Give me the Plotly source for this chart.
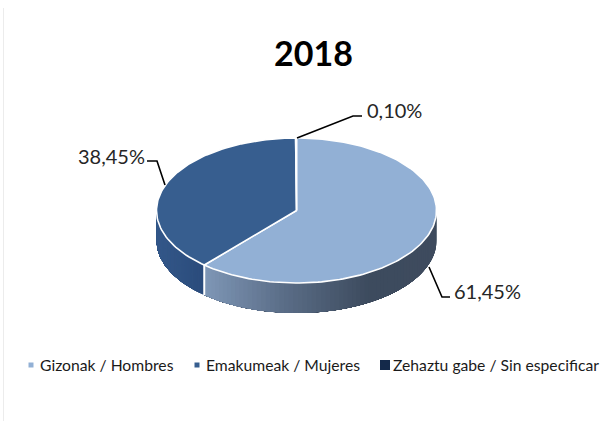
import numpy as np
import plotly.graph_objects as go

TITLE = "2018"
CATEGORIES = ["Gizonak / Hombres", "Emakumeak / Mujeres", "Zehaztu gabe / Sin especificar"]
VALUES = [61.45, 38.45, 0.10]
COLORS = ["#92B0D5", "#375E8F", "#14294A"]

W, H = 603, 421
CX, CY, RX, RY, DEPTH = 296.5, 210.5, 140, 72.5, 30
FONT = "Lato"
TEXT = "#262626"


def point(angle):
    return CX + RX * np.sin(angle), CY - RY * np.cos(angle)


def hex2rgb(h):
    return np.array([int(h[i:i + 2], 16) for i in (1, 3, 5)], float)


def mix(stops, t):
    xs = [s[0] for s in stops]
    rgb = [np.interp(t, xs, [hex2rgb(s[1])[k] for s in stops]) for k in range(3)]
    return "rgb(%d,%d,%d)" % tuple(rgb)


fig = go.Figure()
fracs = np.array(VALUES) / sum(VALUES)
edges = np.concatenate([[0], np.cumsum(fracs)]) * 2 * np.pi

SIDE_STOPS = [
    [(0.0, "#8098B8"), (0.35, "#5B6E88"), (0.72, "#3D4B5E"), (1.0, "#3F4C5E")],
    [(0.0, "#35598A"), (1.0, "#2B4C7C")],
]

# side walls of the front half: each strip runs to the end of the wall, the next paints over it
for i in range(2):
    a0, a1 = max(edges[i], np.pi / 2), min(edges[i + 1], 3 * np.pi / 2)
    x0, x1 = point(a0)[0], point(a1)[0]
    lo, hi = min(x0, x1), max(x0, x1)
    angles = np.linspace(a0, a1, 70)
    for s in range(len(angles) - 1):
        seg = np.linspace(angles[s], a1, 50)
        px, py = point(seg)
        xs = list(px) + list(px[::-1]) + [px[0]]
        ys = list(py) + list((py + DEPTH)[::-1]) + [py[0]]
        t = (point(angles[s])[0] - lo) / (hi - lo)
        c = mix(SIDE_STOPS[i], t)
        fig.add_trace(go.Scatter(x=xs, y=ys, mode="lines", fill="toself", fillcolor=c,
                                 line=dict(color=c, width=0), hoverinfo="skip", showlegend=False))

# white seam on the wall where the two front slices meet
sx, sy = point(edges[1])
fig.add_trace(go.Scatter(x=[sx, sx], y=[sy, sy + DEPTH], mode="lines",
                         line=dict(color="white", width=2), hoverinfo="skip", showlegend=False))

# top face
for i, name in enumerate(CATEGORIES):
    seg = np.linspace(edges[i], edges[i + 1], max(3, int(fracs[i] * 240)))
    px, py = point(seg)
    fig.add_trace(go.Scatter(x=[CX] + list(px) + [CX], y=[CY] + list(py) + [CY], mode="lines",
                             fill="toself", fillcolor=COLORS[i], line=dict(color="white", width=1.6),
                             name=name, hoverinfo="name", showlegend=False))

# data labels with leader lines
LABEL_LAYOUT = [
    dict(elbow=(442, 297), end=(450, 297), tx=452, ty=291),
    dict(elbow=(157, 161), end=(147, 161), tx=147, ty=156, anchor="right"),
    dict(elbow=(353, 116), end=(362, 116), tx=365, ty=110),
]
STARTS = [(429, 267), (165, 185), (297, 138)]
annotations = []
for i, v in enumerate(VALUES):
    L = LABEL_LAYOUT[i]
    s = STARTS[i]
    fig.add_trace(go.Scatter(x=[s[0], L["elbow"][0], L["end"][0]], y=[s[1], L["elbow"][1], L["end"][1]],
                             mode="lines", line=dict(color="black", width=1.6),
                             hoverinfo="skip", showlegend=False))
    annotations.append(dict(x=L["tx"], y=L["ty"], xref="x", yref="y", showarrow=False,
                            text=f"{v:.2f}%".replace(".", ","),
                            xanchor=L.get("anchor", "left"), yanchor="middle",
                            font=dict(family=FONT, size=20, color=TEXT)))

# legend row
LEG_X = [31, 197, 385]
LEG_TX = [38, 204, 391]
LEG_SIZE = [5, 5, 10]
LEG_Y = 365
for i, name in enumerate(CATEGORIES):
    fig.add_trace(go.Scatter(x=[LEG_X[i]], y=[LEG_Y], mode="markers",
                             marker=dict(symbol="square", size=LEG_SIZE[i], color=COLORS[i]),
                             hoverinfo="skip", showlegend=False))
    annotations.append(dict(x=LEG_TX[i], y=LEG_Y, xref="x", yref="y", showarrow=False, text=name,
                            xanchor="left", yanchor="middle",
                            font=dict(family=FONT, size=15.7, color="#1a1a1a")))

annotations.append(dict(x=313, y=52, xref="x", yref="y", showarrow=False, text=f"<b>{TITLE}</b>",
                        xanchor="center", yanchor="middle",
                        font=dict(family=FONT, size=34, color="black")))

fig.update_layout(
    width=W, height=H, margin=dict(l=0, r=0, t=0, b=0), paper_bgcolor="white", plot_bgcolor="white",
    xaxis=dict(range=[0, W], visible=False, fixedrange=True),
    yaxis=dict(range=[H, 0], visible=False, fixedrange=True),
    annotations=annotations, showlegend=False,
    shapes=[dict(type="line", x0=3.5, x1=3.5, y0=8, y1=421, xref="x", yref="y",
                 line=dict(color="#ececec", width=1))],
)
fig.write_html("out.html", config=dict(displayModeBar=False),
               post_script="document.body.style.margin='0';document.body.style.overflow='hidden';")
